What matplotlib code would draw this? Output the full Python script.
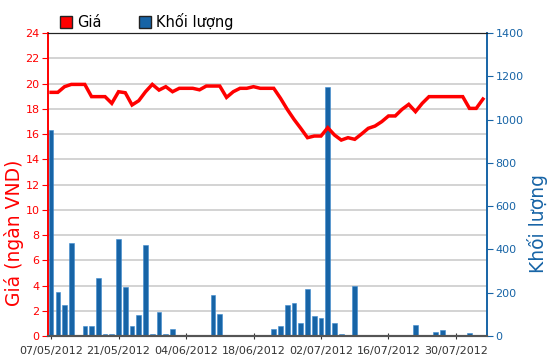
import numpy as np
import matplotlib
matplotlib.use('Agg')
from matplotlib import pyplot as plt
from matplotlib.patches import Patch

# giá đóng cửa (ngàn VND) theo từng phiên
price = [19.3, 19.3, 19.75, 19.93, 19.93, 19.93, 18.96, 18.96, 18.96, 18.43,
         19.35, 19.27, 18.3, 18.64, 19.35, 19.93, 19.48, 19.75, 19.35, 19.62,
         19.62, 19.62, 19.5, 19.8, 19.8, 19.8, 18.9, 19.35, 19.62, 19.62,
         19.75, 19.62, 19.62, 19.62, 18.83, 17.95, 17.16, 16.45, 15.71, 15.84,
         15.84, 16.5, 15.92, 15.52, 15.71, 15.58, 16.0, 16.45, 16.63, 16.98,
         17.43, 17.43, 17.95, 18.35, 17.77, 18.43, 18.96, 18.96, 18.96, 18.96,
         18.96, 18.96, 18.03, 18.03, 18.77]

# khối lượng giao dịch
volume = [950, 202, 143, 428, 0, 48, 48, 266, 10, 10,
          447, 228, 48, 99, 420, 10, 112, 10, 32, 0,
          0, 0, 0, 0, 189, 100, 0, 0, 0, 0,
          0, 5, 0, 32, 45, 143, 151, 58, 216, 94,
          82, 1150, 58, 10, 5, 232, 0, 0, 5, 5,
          5, 0, 0, 5, 49, 0, 0, 17, 28, 0,
          0, 0, 12, 0, 0]

tick_labels = ['07/05/2012', '21/05/2012', '04/06/2012', '18/06/2012',
               '02/07/2012', '16/07/2012', '30/07/2012']

red = '#ff0000'
blue = '#1764a6'

x = np.arange(len(price))

fig = plt.figure(figsize=(5.5, 3.64), dpi=100)
ax2 = fig.add_axes([0.0873, 0.0769, 0.7982, 0.8324])
ax1 = ax2.twinx()
ax1.set_zorder(ax2.get_zorder() + 1)
ax1.patch.set_visible(False)

# lưới ngang (theo thang giá, mỗi 2 ngàn)
for k in range(1, 12):
    ax2.axhline(k * 1400 / 12, color='#cccccc', lw=1.2, zorder=0)

ax2.bar(x, volume, width=0.68, color=blue, edgecolor='#3d8ad0', linewidth=0.4, zorder=2)
ax2.set_ylim(0, 1400)
ax2.set_yticks(range(0, 1401, 200))
ax2.yaxis.tick_right()
ax2.yaxis.set_label_position('right')

ax1.plot(x, price, color=red, lw=2.5, solid_joinstyle='miter')
ax1.set_ylim(0, 24)
ax1.set_yticks(range(0, 25, 2))
ax1.yaxis.tick_left()
ax1.yaxis.set_label_position('left')

ax2.set_xlim(-0.45, 64.6)
ax2.set_xticks(range(0, 61, 10))
ax2.set_xticklabels(tick_labels)
ax2.tick_params(axis='x', colors='#333333', labelsize=8, length=5, direction='inout', pad=5)

ax1.tick_params(axis='y', colors=red, labelsize=8, length=4, pad=2)
ax2.tick_params(axis='y', colors=blue, labelsize=8, length=4, pad=2)

for a in (ax1, ax2):
    a.spines['left'].set_color(red)
    a.spines['left'].set_linewidth(1.2)
    a.spines['right'].set_color(blue)
    a.spines['right'].set_linewidth(1.2)
    a.spines['top'].set_color('#222222')
    a.spines['bottom'].set_color('#555555')
    a.spines['bottom'].set_linewidth(1.5)

ax1.set_ylabel('Giá (ngàn VND)', color=red, fontsize=13.5)
ax1.yaxis.set_label_coords(-0.055, 0.34)
ax2.set_ylabel('Khối lượng', color=blue, fontsize=13.5)
ax2.yaxis.set_label_coords(1.092, 0.37)

handles = [Patch(facecolor=red, edgecolor='#222222', label='Giá'),
           Patch(facecolor=blue, edgecolor='#222222', label='Khối lượng')]
fig.legend(handles=handles, loc='upper left', bbox_to_anchor=(0.085, 1.0), ncol=2,
           frameon=False, fontsize=10.5, handlelength=0.8, handleheight=0.8,
           handletextpad=0.35, columnspacing=2.6)

plt.savefig('out.png', dpi=100)
